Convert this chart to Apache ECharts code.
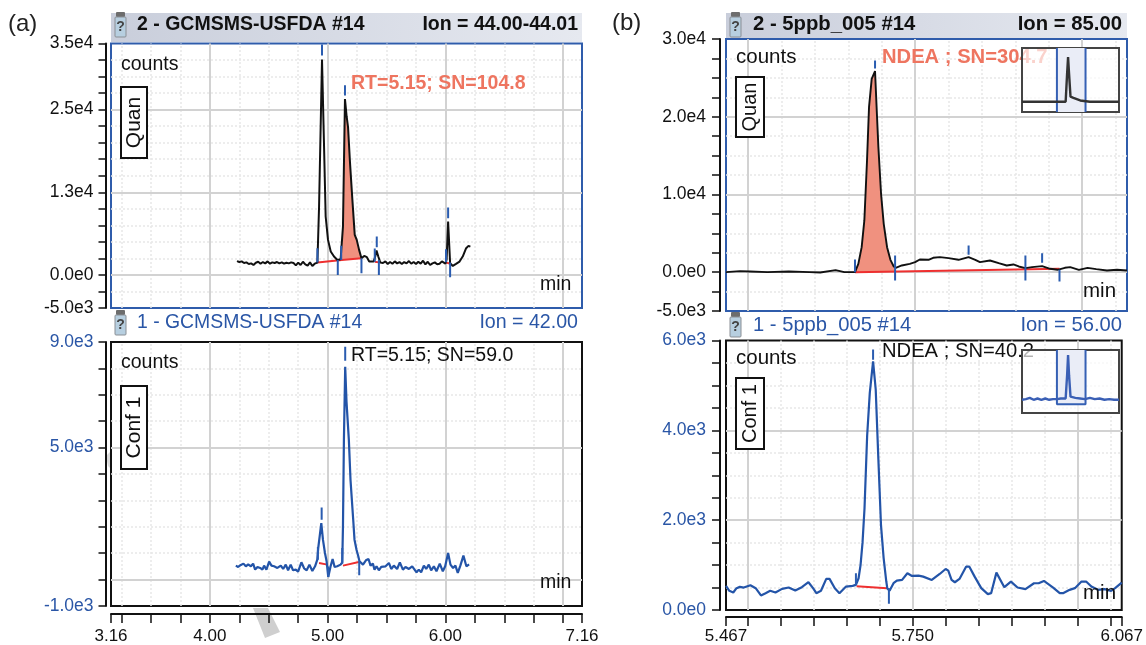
<!DOCTYPE html>
<html><head><meta charset="utf-8">
<style>html,body{margin:0;padding:0;background:#fff}#c{width:1146px;height:645px}</style>
<script src="https://cdn.jsdelivr.net/npm/echarts@6/dist/echarts.min.js"></script>
</head><body><div id="c"></div>
<script>
// ---------- data: [minutes, counts] ----------
const aQuanTrace = [[4.23,2100],[4.25,1950],[4.27,2050],[4.29,1800],[4.31,1900],[4.33,1650],[4.35,1750],[4.37,1500],[4.39,1850],[4.41,2000],[4.43,1700],[4.45,1950],[4.47,1750],[4.49,2050],[4.51,1700],[4.53,1900],[4.55,1800],[4.57,1950],[4.59,1750],[4.61,1900],[4.63,1700],[4.65,1850],[4.67,1750],[4.69,1900],[4.71,1800],[4.73,1450],[4.75,1850],[4.77,1500],[4.79,2000],[4.81,1600],[4.83,1400],[4.85,1900],[4.87,1350],[4.89,1700],[4.913,1870],[4.927,10350],[4.952,32570],[4.968,20450],[4.983,8840],[5.003,5300],[5.026,3535],[5.054,2780],[5.083,2270],[5.11,2370],[5.12,2500],[5.13,7300],[5.147,26600],[5.161,24000],[5.173,22370],[5.19,16900],[5.21,11360],[5.23,6060],[5.247,5300],[5.267,3790],[5.287,2525],[5.31,2880],[5.333,2680],[5.353,2020],[5.39,2020],[5.404,2780],[5.415,3690],[5.43,2780],[5.447,1870],[5.47,1800],[5.49,2050],[5.51,1650],[5.53,1950],[5.55,1700],[5.57,2050],[5.59,1750],[5.61,1950],[5.63,1650],[5.65,1950],[5.67,1750],[5.69,2100],[5.71,1700],[5.73,1950],[5.75,1650],[5.77,2000],[5.79,1700],[5.81,2150],[5.83,1600],[5.85,2000],[5.87,1500],[5.89,1750],[5.91,1900],[5.93,1600],[5.95,1700],[5.97,2050],[6.0,1700],[6.01,2300],[6.023,8080],[6.04,1770],[6.063,1360],[6.09,1670],[6.12,2020],[6.147,2780],[6.176,4040],[6.196,4400],[6.212,4290]];
const aQuanPeak = [5.12,5.287];
const aQuanBase = [[4.913,1870],[5.12,2270],null,[5.12,2270],[5.287,2525],null,[5.40,2000],[5.435,1900],null,[6.005,1900],[6.04,1700]];
const aQuanMarks = [[4.952,33200,34850],[5.147,27120,28680],[4.913,1870,4040],[5.086,0,2270],[5.115,2270,4400],[5.287,250,2525],[5.40,2000,4000],[5.417,4190,5800],[5.435,0,2250],[6.005,1900,3900],[6.023,8580,10200],[6.04,-350,1870]];

const aConfTrace = [[4.22,529],[4.24,479],[4.263,554],[4.285,605],[4.305,504],[4.325,580],[4.348,504],[4.367,605],[4.384,378],[4.404,479],[4.427,441],[4.446,378],[4.46,529],[4.48,378],[4.503,680],[4.523,529],[4.545,504],[4.573,441],[4.602,529],[4.622,403],[4.644,567],[4.664,353],[4.686,567],[4.706,353],[4.729,378],[4.749,302],[4.777,655],[4.8,428],[4.822,353],[4.845,567],[4.87,328],[4.893,504],[4.912,756],[4.92,1197],[4.946,2142],[4.96,1512],[4.977,1008],[4.991,693],[5.005,100],[5.025,504],[5.042,781],[5.059,479],[5.081,504],[5.11,567],[5.124,655],[5.13,2016],[5.138,5292],[5.149,8064],[5.16,6741],[5.172,6766],[5.18,5292],[5.194,3780],[5.217,2268],[5.228,1512],[5.245,1134],[5.26,882],[5.27,693],[5.285,756],[5.3,567],[5.325,731],[5.347,781],[5.364,529],[5.384,605],[5.398,378],[5.415,504],[5.435,353],[5.455,479],[5.492,504],[5.52,630],[5.54,403],[5.562,529],[5.59,403],[5.613,655],[5.639,378],[5.661,479],[5.69,403],[5.718,504],[5.755,277],[5.774,378],[5.794,277],[5.817,529],[5.837,403],[5.859,567],[5.879,353],[5.902,504],[5.924,315],[5.952,605],[5.978,315],[5.998,504],[6.023,1008],[6.043,567],[6.065,441],[6.085,529],[6.105,252],[6.127,529],[6.153,907],[6.178,504],[6.201,580]];
const aConfBase = [[4.927,630],[4.997,567],null,[5.13,529],[5.265,668]];
const aConfMarks = [[4.949,2268,2734],[5.149,8290,8820],[4.917,756,1235],[5.005,100,500],[5.124,605,1197],[5.268,164,693]];

const bQuanTrace = [[5.467,0],[5.488,130],[5.503,86],[5.529,0],[5.561,86],[5.592,0],[5.608,-43],[5.631,257],[5.644,0],[5.66,0],[5.665,1072],[5.67,3217],[5.674,6650],[5.678,14370],[5.681,21235],[5.685,24880],[5.69,25870],[5.693,19950],[5.695,16090],[5.699,10080],[5.703,6220],[5.708,3217],[5.713,1587],[5.718,730],[5.721,558],[5.73,858],[5.742,1072],[5.75,1287],[5.757,1630],[5.77,1587],[5.777,1845],[5.787,1930],[5.8,1800],[5.815,1587],[5.83,1930],[5.84,1587],[5.847,1287],[5.862,1500],[5.875,1158],[5.887,858],[5.897,987],[5.905,730],[5.915,515],[5.925,643],[5.94,772],[5.952,429],[5.963,300],[5.974,557],[5.982,643],[5.995,300],[6.008,557],[6.021,386],[6.037,214],[6.052,300],[6.067,214]];
const bQuanPeak = [5.66,5.72];
const bQuanBase = [[5.66,0],[5.966,430]];
const bQuanMarks = [[5.69,26200,27240],[5.66,0,1630],[5.72,-1072,2145],[5.83,2230,3430],[5.915,-1072,2145],[5.94,1200,2445],[5.966,-1200,300]];

const bConfTrace = [[5.467,537],[5.472,427],[5.478,390],[5.483,486],[5.488,515],[5.494,500],[5.504,552],[5.512,486],[5.52,324],[5.527,375],[5.534,427],[5.542,390],[5.552,471],[5.562,500],[5.572,434],[5.582,508],[5.592,618],[5.599,486],[5.604,375],[5.611,427],[5.619,692],[5.624,692],[5.632,486],[5.639,375],[5.649,522],[5.659,537],[5.664,559],[5.668,707],[5.671,1000],[5.674,1500],[5.677,2260],[5.681,3879],[5.685,4835],[5.69,5535],[5.694,4909],[5.698,3364],[5.702,1891],[5.706,1155],[5.71,640],[5.7115,486],[5.715,427],[5.721,596],[5.726,655],[5.734,670],[5.742,817],[5.749,758],[5.759,765],[5.766,743],[5.779,670],[5.791,802],[5.8,913],[5.804,876],[5.809,670],[5.814,618],[5.821,692],[5.831,964],[5.836,964],[5.844,743],[5.854,486],[5.864,353],[5.869,375],[5.877,832],[5.889,508],[5.899,633],[5.909,500],[5.921,464],[5.934,596],[5.941,596],[5.949,648],[5.963,500],[5.973,375],[5.978,375],[5.988,449],[5.996,486],[6.006,633],[6.013,633],[6.021,522],[6.031,449],[6.041,464],[6.051,427],[6.057,486],[6.067,611]];
const bConfBase = [[5.665,530],[5.711,486]];
const bConfMarks = [[5.69,5570,5800],[5.664,559,817],[5.714,140,486]];

// inset overview traces (0-100 on both hidden axes)
const insetTopTrace = [[0,16],[20,16],[36,16],[45,16],[46.5,60],[47.5,86],[48.5,60],[50,24],[53,22],[60,18],[70,16],[100,16]];
const insetTopWin = [36,65.5];
const insetLowTrace = [[0,21],[4,22],[8,24],[12,21],[16,23],[20,21],[24,23],[28,21],[32,22],[36,22],[40,23],[45,23],[46.5,60],[47.5,92],[48.5,60],[50,26],[55,24],[60,23],[65,22],[70,24],[75,22],[80,23],[85,21],[90,22],[95,21],[100,21]];
const insetLowWin = [36,65.5];

// axis ticks and labels
const aXRange=[3.16,7.16], bXRange=[5.467,6.067];
const aXTicks=[3.16,3.25,3.5,3.75,4,4.25,4.5,4.75,5,5.25,5.5,5.75,6,6.25,6.5,6.75,7,7.16];
const aXMajor=[4,5,6,7];
const aXLabels=[3.16,4,5,6,7.16];
const bXTicks=[5.467,5.5,5.55,5.6,5.65,5.7,5.75,5.8,5.85,5.9,5.95,6,6.05,6.067];
const bXMajor=[5.5,5.75,6];
const bXLabels=[5.467,5.75,6.067];
const aQuanY={min:-5000,max:35000,step:2500,major:[0,12500,25000],labels:{'-5000':'-5.0e3','0':'0.0e0','12500':'1.3e4','25000':'2.5e4','35000':'3.5e4'}};
const aConfY={min:-1000,max:9000,step:1000,major:[0,5000],labels:{'-1000':'-1.0e3','5000':'5.0e3','9000':'9.0e3'}};
const bQuanY={min:-5000,max:30000,step:2500,major:[0,10000,20000],labels:{'-5000':'-5.0e3','0':'0.0e0','10000':'1.0e4','20000':'2.0e4','30000':'3.0e4'}};
const bConfY={min:0,max:6000,step:500,major:[2000,4000],labels:{'0':'0.0e0','2000':'2.0e3','4000':'4.0e3','6000':'6.0e3'}};

// ---------- styling ----------
const FONT='"Liberation Sans",Arial,sans-serif';
const BLUE='#2a56a6', SALMON='#ee7560', FILL='#f0917f', RED='#ee2f2f', MARK='#2a5cb0';
const GRIDMAJOR='#d2d2d2', GRIDMINOR='#e8e8e8';

const grids=[],xAxes=[],yAxes=[],series=[];
function range(a,b,s){const r=[];for(let v=a;v<=b+1e-9;v+=s)r.push(+v.toFixed(4));return r;}
function gaps(pts){return pts.map(p=>p===null?[null,null]:p);}
function marks(list){const o=[];list.forEach(m=>{o.push([m[0],m[1]],[m[0],m[2]],[null,null]);});return o;}

function panel(o){
  const i=grids.length;
  grids.push({show:true,left:o.box[0],top:o.box[1],width:o.box[2],height:o.box[3],
    backgroundColor:'transparent',borderColor:o.frame,borderWidth:2});
  xAxes.push({gridIndex:i,type:'value',min:o.xr[0],max:o.xr[1],show:!!o.showX,position:'bottom',offset:o.xOffset||0,
    axisLine:{onZero:false,lineStyle:{color:'#111',width:2}},
    axisTick:{show:true,length:o.xTickLen||9,customValues:o.xTicks,lineStyle:{color:'#111',width:1.5}},
    axisLabel:{show:true,customValues:o.xLabels,margin:o.xMargin||5,color:'#111',fontFamily:FONT,fontSize:17,
      formatter:v=>v.toFixed(o.xDec)},
    splitLine:{show:false}});
  const y=o.y;
  yAxes.push({gridIndex:i,type:'value',min:y.min,max:y.max,interval:y.step,offset:o.yOffset,position:'left',
    axisLine:{show:true,onZero:false,lineStyle:{color:'#111',width:2}},
    axisTick:{show:true,length:o.yTickLen,lineStyle:{color:'#111',width:1.5}},
    axisLabel:{customValues:Object.keys(y.labels).map(Number),margin:o.yMargin,color:o.labelColor,fontFamily:FONT,fontSize:17.5,
      formatter:v=>y.labels[String(v)]},
    splitLine:{show:false}});
  const minorY=range(y.min,y.max,y.step).filter(v=>!y.major.includes(v)&&v!==y.min&&v!==y.max);
  const minorX=o.xTicks.filter(v=>!o.xMajor.includes(v)&&v!==o.xr[0]&&v!==o.xr[1]);
  const minorSt={color:GRIDMINOR,width:1.5,type:[2,2]}, majorSt={color:GRIDMAJOR,width:2,type:'solid'};
  series.push({type:'line',xAxisIndex:i,yAxisIndex:i,data:[],z:1,silent:true,
    markLine:{silent:true,symbol:'none',animation:false,label:{show:false},z:1,
      data:[...minorY.map(v=>({yAxis:v,lineStyle:minorSt})),...minorX.map(v=>({xAxis:v,lineStyle:minorSt})),
            ...y.major.map(v=>({yAxis:v,lineStyle:majorSt})),...o.xMajor.map(v=>({xAxis:v,lineStyle:majorSt}))]}});
  if(o.peak){
    const inPeak=o.trace.filter(p=>p[0]>=o.peak[0]&&p[0]<=o.peak[1]);
    const b=o.peakBase, base=x=>b[0][1]+(x-b[0][0])/(b[1][0]-b[0][0])*(b[1][1]-b[0][1]);
    const poly=[...inPeak,[o.peak[1],base(o.peak[1])],[o.peak[0],base(o.peak[0])]];
    series.push({type:'custom',xAxisIndex:i,yAxisIndex:i,z:2,silent:true,data:[[o.peak[0],0]],
      renderItem:(p,api)=>({type:'polygon',shape:{points:poly.map(q=>api.coord(q))},style:{fill:FILL}})});
  }
  series.push({type:'line',xAxisIndex:i,yAxisIndex:i,z:3,showSymbol:false,silent:true,data:gaps(o.base),
    lineStyle:{color:RED,width:2}});
  series.push({type:'line',xAxisIndex:i,yAxisIndex:i,z:4,showSymbol:false,silent:true,data:o.trace,
    lineStyle:{color:o.traceColor,width:o.traceWidth}});
  series.push({type:'line',xAxisIndex:i,yAxisIndex:i,z:5,showSymbol:false,silent:true,data:marks(o.marks),
    lineStyle:{color:MARK,width:2}});
}
function inset(box,trace,win,color,low){
  const i=grids.length;
  grids.push({show:true,left:box[0],top:box[1],width:box[2],height:box[3],backgroundColor:'transparent',borderColor:'#444',borderWidth:2,z:8});
  xAxes.push({gridIndex:i,type:'value',min:0,max:100,show:false});
  yAxes.push({gridIndex:i,type:'value',min:0,max:100,show:false});
  const floor=low?14:0;
  series.push({type:'custom',xAxisIndex:i,yAxisIndex:i,z:8,silent:true,data:[[win[0],floor]],
    renderItem:(p,api)=>({type:'polygon',shape:{points:[[win[0],100],[win[1],100],[win[1],floor],[win[0],floor]].map(q=>api.coord(q))},style:{fill:'#eaedf7'}})});
  const frame=low?[[win[0],100],[win[0],floor],[win[1],floor],[win[1],100]]
                 :[[win[0],100],[win[0],0],[null,null],[win[1],0],[win[1],100]];
  series.push({type:'line',xAxisIndex:i,yAxisIndex:i,z:9,showSymbol:false,silent:true,data:frame,
    lineStyle:{color:'#3560b4',width:2}});
  series.push({type:'line',xAxisIndex:i,yAxisIndex:i,z:10,showSymbol:false,silent:true,data:trace,
    lineStyle:{color:color,width:2.4}});
}

panel({box:[111,43.5,471,264.5],frame:'#2f5cab',xr:aXRange,xTicks:aXTicks,xMajor:aXMajor,xLabels:aXLabels,xDec:2,y:aQuanY,yOffset:5.5,yTickLen:7,yMargin:12,labelColor:'#111',
  trace:aQuanTrace,traceColor:'#111',traceWidth:2,base:aQuanBase,marks:aQuanMarks,peak:aQuanPeak,peakBase:[[5.12,2270],[5.287,2525]]});
panel({box:[111,342,471,264.5],frame:'#111',xr:aXRange,xTicks:aXTicks,xMajor:aXMajor,xLabels:aXLabels,xDec:2,showX:true,xOffset:8,xMargin:14,y:aConfY,yOffset:5.5,yTickLen:7,yMargin:12,labelColor:BLUE,
  trace:aConfTrace,traceColor:'#2354a8',traceWidth:2.2,base:aConfBase,marks:aConfMarks});
panel({box:[726,39,401,272],frame:'#2f5cab',xr:bXRange,xTicks:bXTicks,xMajor:bXMajor,xLabels:bXLabels,xDec:3,y:bQuanY,yOffset:6,yTickLen:8,yMargin:14,labelColor:'#111',
  trace:bQuanTrace,traceColor:'#111',traceWidth:1.9,base:bQuanBase,marks:bQuanMarks,peak:bQuanPeak,peakBase:bQuanBase});
panel({box:[726,340.5,401,271.5],frame:'#111',xr:bXRange,xTicks:bXTicks,xMajor:bXMajor,xLabels:bXLabels,xDec:3,showX:true,xOffset:7,xMargin:11,xTickLen:9,y:bConfY,yOffset:6,yTickLen:8,yMargin:14,labelColor:BLUE,
  trace:bConfTrace,traceColor:'#2354a8',traceWidth:2.2,base:bConfBase,marks:bConfMarks});
inset([1022,48,97,64],insetTopTrace,insetTopWin,'#333',false);
inset([1022,350,97,63],insetLowTrace,insetLowWin,'#3a5fb5',true);

// ---------- page furniture ----------
const g=[];
function txt(x,y,s,size,fill,opt={}){g.push({type:'text',x,y,rotation:opt.rot||0,z:opt.z||6,silent:true,
  style:{text:s,fill,font:`${opt.bold?'bold ':''}${size}px ${FONT}`,textAlign:opt.align||'left',textVerticalAlign:'middle'}});}
function header(x,y,w,h){g.push({type:'rect',z:0,silent:true,shape:{x,y,width:w,height:h},
  style:{fill:new echarts.graphic.LinearGradient(0,0,1,0,[{offset:0,color:'#c9cedb'},{offset:1,color:'#e6e9f0'}])}});}
function vial(x,y){
  g.push({type:'rect',z:6,silent:true,shape:{x:x+1,y:y,width:9,height:5,r:1},style:{fill:'#6d6d6d'}});
  g.push({type:'rect',z:6,silent:true,shape:{x:x,y:y+5,width:11,height:20,r:1},style:{fill:'#b7cfe0',stroke:'#8a8f95',lineWidth:1}});
  txt(x+5.5,y+15,'?',14,'#444',{align:'center',bold:true});
}
function tag(x,y,w,h,s,size){
  g.push({type:'rect',z:6,silent:true,shape:{x,y,width:w,height:h},style:{fill:'#fff',stroke:'#111',lineWidth:2}});
  txt(x+w/2,y+h/2,s,size,'#111',{rot:Math.PI/2,align:'center'});
}
header(111,13,471,29); header(726,13,401,25);
vial(115,12); vial(115,310); vial(730,12); vial(730,312);
txt(8,24,'(a)',24,'#222'); txt(612,23,'(b)',24,'#222');
txt(137,25,'2 - GCMSMS-USFDA #14',19.5,'#111',{bold:true});
txt(578,25,'Ion = 44.00-44.01',19.5,'#111',{bold:true,align:'right'});
txt(137,323,'1 - GCMSMS-USFDA #14',19.4,BLUE);
txt(578,323,'Ion = 42.00',19.6,BLUE,{align:'right'});
txt(753,24,'2 - 5ppb_005 #14',20.3,'#111',{bold:true});
txt(1122,24,'Ion = 85.00',20.3,'#111',{bold:true,align:'right'});
txt(753,325,'1 - 5ppb_005 #14',20.2,BLUE);
txt(1122,325,'Ion = 56.00',20.2,BLUE,{align:'right'});
txt(121,65,'counts',19.5,'#111'); txt(121,363,'counts',19.5,'#111');
txt(736,57,'counts',20.5,'#111'); txt(736,358,'counts',20.5,'#111');
tag(121,87,26,71,'Quan',21); tag(121,386,26,83,'Conf 1',21);
tag(736,77,28,60,'Quan',20); tag(736,378,28,71,'Conf 1',20);
txt(540,285,'min',19.5,'#111'); txt(540,583,'min',19.5,'#111');
txt(1083,291,'min',20.5,'#111'); txt(1083,593,'min',20.5,'#111');
txt(351,84,'RT=5.15; SN=104.8',19.5,SALMON,{bold:true});
txt(351,356,'RT=5.15; SN=59.0',19.5,'#111');
txt(882,57,'NDEA ; SN=304.7',20.2,SALMON,{bold:true});
txt(882,351,'NDEA ; SN=40.2',20.2,'#111');
// translucent inset panels over the overflowing annotation text
g.push({type:'rect',z:7,silent:true,shape:{x:1022,y:48,width:97,height:64},style:{fill:'rgba(255,255,255,0.68)'}});
g.push({type:'rect',z:7,silent:true,shape:{x:1022,y:350,width:97,height:63},style:{fill:'rgba(255,255,255,0.68)'}});
// stray grey watermark fragments in the source figure
g.push({type:'polygon',z:0,silent:true,shape:{points:[[253,608],[268,608],[280,632],[265,638]]},style:{fill:'#cfcfcf'}});
g.push({type:'polygon',z:0,silent:true,shape:{points:[[106,456],[110,452],[110,468],[108,466]]},style:{fill:'#dcdcdc'}});

const chart=echarts.init(document.getElementById('c'),null,{renderer:'canvas'});
chart.setOption({animation:false,backgroundColor:'#fff',grid:grids,xAxis:xAxes,yAxis:yAxes,series,
  graphic:{elements:g}});
</script></body></html>
